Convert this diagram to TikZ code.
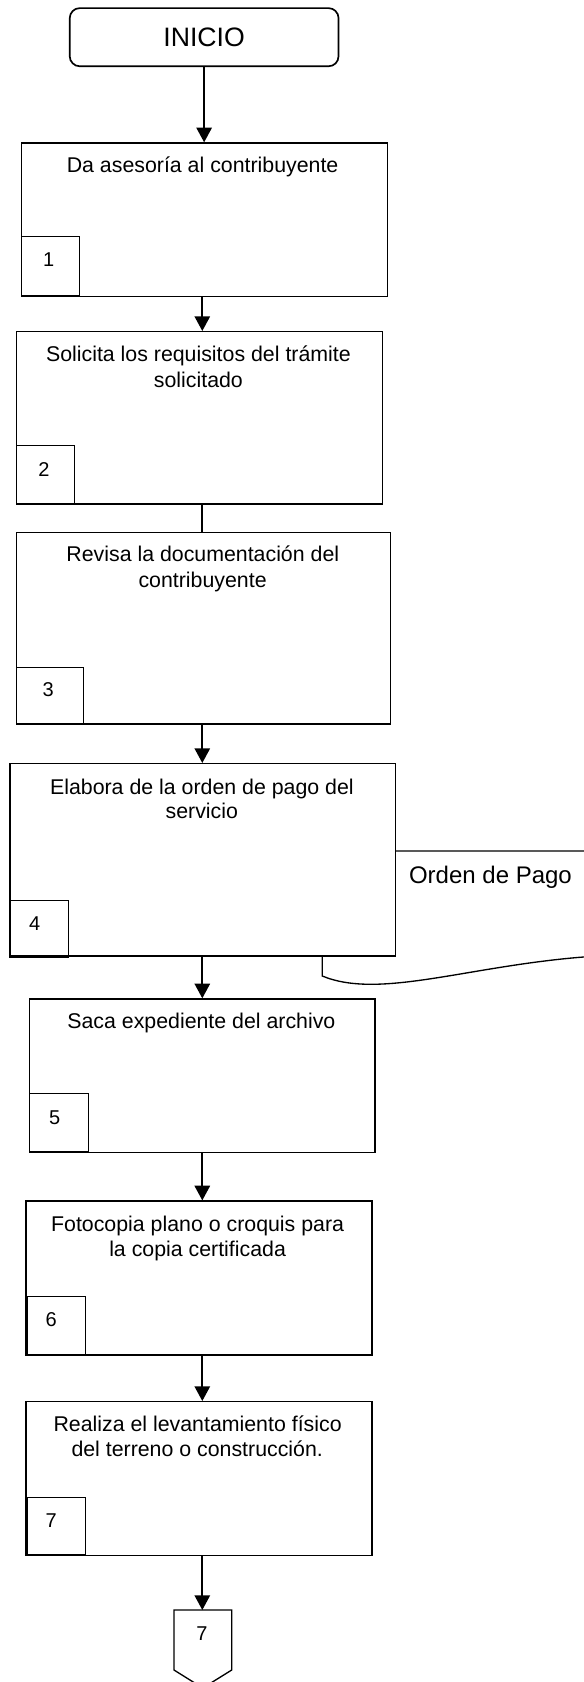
\documentclass[tikz,border=0pt]{standalone}
\usepackage{fontspec}
\setmainfont{Liberation Sans}
\usetikzlibrary{arrows.meta,calc}
\tikzset{
  stepbox/.style={draw, line width=1.1pt, fill=white, rectangle, inner sep=0pt, anchor=north west},
  numbox/.style={draw, line width=0.8pt, rectangle, inner sep=0pt, anchor=north west},
  boxtext/.style={font=\fontsize{16}{19}\selectfont, inner sep=0pt, anchor=base},
  numtext/.style={font=\fontsize{15}{18}\selectfont, inner sep=0pt},
  flow/.style={line width=1.4pt, -{Triangle[width=11.5pt,length=11pt]}},
  plainflow/.style={line width=1.4pt},
  docline/.style={line width=1pt, fill=white},
  offpage/.style={line width=1pt, fill=white},
}
\begin{document}
\begin{tikzpicture}[x=0.75pt,y=-0.75pt]
\useasboundingbox (0,0) rectangle (583,1682);
\coordinate (spine) at (202.3,0);

% document shape (partly behind box 4)
\draw[docline] (322.3,976) -- (322.3,851) -- (610,851) -- (610,956.8) -- (590,956.5)
  .. controls (470,965) and (380,1000) .. (322.3,976) -- cycle;
\node[font=\fontsize{18}{21}\selectfont, anchor=base west, inner sep=0pt] (doctext) at (408.8,883.3) {Orden de Pago};

% start
\node[draw, line width=1.25pt, rounded corners=7.5pt, inner sep=0pt, anchor=north west,
      minimum width=201.6pt, minimum height=43.6pt, font=\fontsize{20}{24}\selectfont] (inicio) at (68.9,7.3) {INICIO};

% process boxes
\node[stepbox, minimum width=274.7pt, minimum height=115.05pt] (b1) at (20.5,142.3) {};
\node[stepbox, minimum width=274.7pt, minimum height=129.2pt] (b2) at (15.6,331) {};
\node[stepbox, minimum width=280.8pt, minimum height=143.6pt] (b3) at (15.6,531.7) {};
\node[stepbox, minimum width=288.9pt, minimum height=144.2pt] (b4) at (9.3,763) {};
\node[stepbox, minimum width=259.05pt, minimum height=115.1pt] (b5) at (29,998.3) {};
\node[stepbox, minimum width=259.3pt, minimum height=115.4pt] (b6) at (25.3,1200.4) {};
\node[stepbox, minimum width=259.3pt, minimum height=115.3pt] (b7) at (25.3,1401) {};

% number boxes
\node[numbox, minimum width=43.5pt, minimum height=44.5pt] (s1) at (20.7,236) {};
\node[numbox, minimum width=44.1pt, minimum height=43.05pt] (s2) at (15.6,445.3) {};
\node[numbox, minimum width=50.2pt, minimum height=43pt] (s3) at (15.6,666.7) {};
\node[numbox, minimum width=44.3pt, minimum height=43pt] (s4) at (9.3,900) {};
\node[numbox, minimum width=44pt, minimum height=43.3pt] (s5) at (29,1093.3) {};
\node[numbox, minimum width=43.7pt, minimum height=43.05pt] (s6) at (26.8,1296.2) {};
\node[numbox, minimum width=43.7pt, minimum height=42.75pt] (s7) at (26.8,1497.3) {};

\node[numtext] (n1) at (48.8,260) {1};
\node[numtext] (n2) at (43.9,469.3) {2};
\node[numtext] (n3) at (48.3,690) {3};
\node[numtext] (n4) at (34.6,923.3) {4};
\node[numtext] (n5) at (54.7,1117.3) {5};
\node[numtext] (n6) at (51.3,1320) {6};
\node[numtext] (n7) at (51.3,1520.8) {7};

% box texts
\node[boxtext] (t1) at (202.6,172.7) {Da asesoría al contribuyente};
\node[boxtext] (t2a) at (198.4,361) {Solicita los requisitos del trámite};
\node[boxtext] (t2b) at (198.4,387.3) {solicitado};
\node[boxtext] (t3a) at (202.8,561.7) {Revisa la documentación del};
\node[boxtext] (t3b) at (202.6,587.3) {contribuyente};
\node[boxtext] (t4a) at (201.9,794) {Elabora de la orden de pago del};
\node[boxtext] (t4b) at (201.8,818.3) {servicio};
\node[boxtext] (t5) at (201.4,1028.3) {Saca expediente del archivo};
\node[boxtext] (t6a) at (197.6,1231) {Fotocopia plano o croquis para};
\node[boxtext] (t6b) at (197.6,1256.8) {la copia certificada};
\node[boxtext] (t7a) at (197.6,1431) {Realiza el levantamiento físico};
\node[boxtext] (t7b) at (197.2,1456.4) {del terreno o construcción.};

% off-page connector
\draw[offpage] (174,1610) -- (231.7,1610) -- (231.7,1670) -- (202.8,1688) -- (174,1670) -- cycle;
\coordinate (pent) at (202.3,1610);
\node[numtext] (p7) at (202,1634) {7};

% connectors
\draw[flow] (inicio.south) -- (inicio.south |- b1.north);
\draw[flow] (b1.south -| spine) -- (b2.north -| spine);
\draw[plainflow] (b2.south -| spine) -- (b3.north -| spine);
\draw[flow] (b3.south -| spine) -- (b4.north -| spine);
\draw[flow] (b4.south -| spine) -- (b5.north -| spine);
\draw[flow] (b5.south -| spine) -- (b6.north -| spine);
\draw[flow] (b6.south -| spine) -- (b7.north -| spine);
\draw[flow] (b7.south -| spine) -- (pent);
\end{tikzpicture}
\end{document}
